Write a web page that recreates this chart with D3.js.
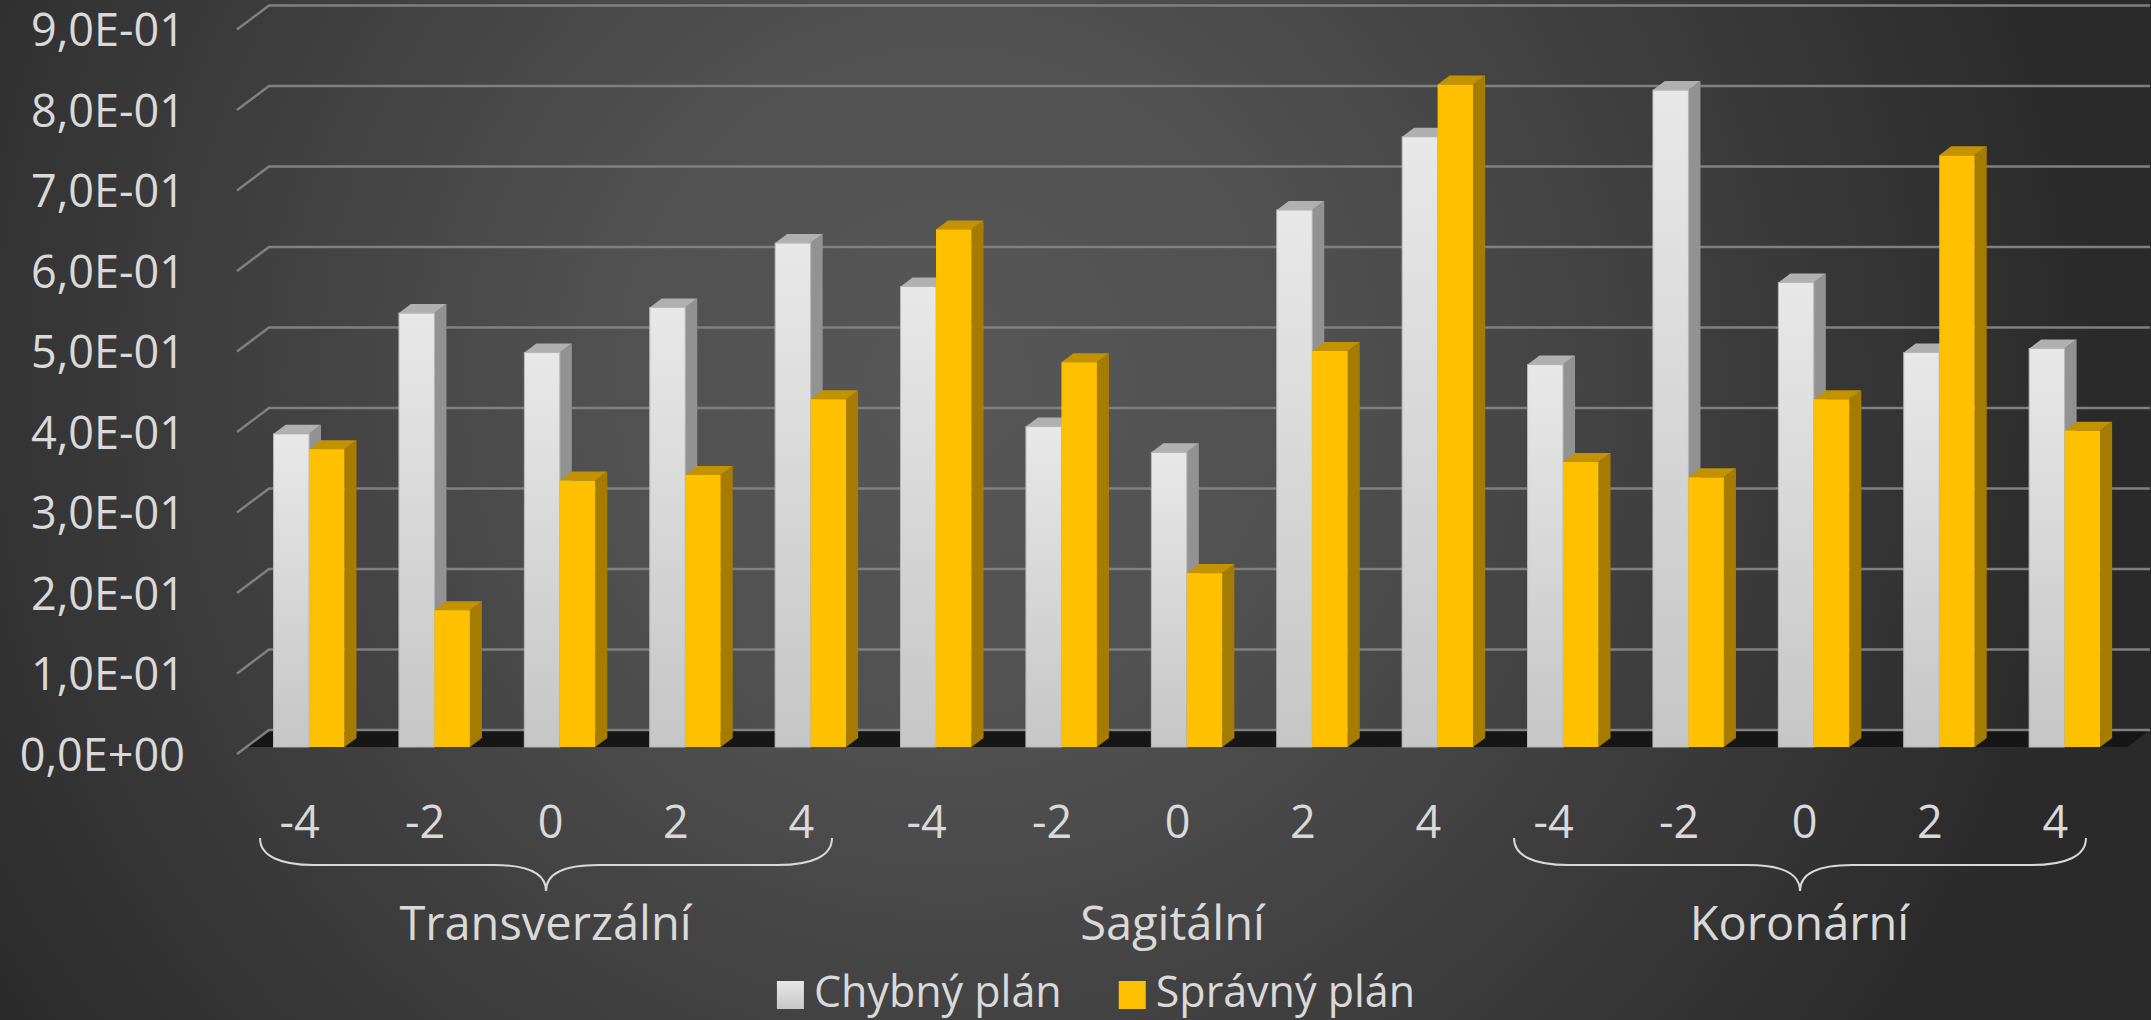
<!DOCTYPE html>
<html>
<head>
<meta charset="utf-8">
<script src="https://cdn.jsdelivr.net/npm/d3@7"></script>
<style>
  html, body { margin: 0; padding: 0; background: #2b2b2b; }
  svg { display: block; font-family: "Open Sans", "Noto Sans", sans-serif; }
</style>
</head>
<body>
<svg id="chart" width="2151" height="1020"></svg>
<script>
// data
const groups = ['Transverzální', 'Sagitální', 'Koronární'];
const categories = ['-4', '-2', '0', '2', '4'];
const seriesNames = ['Chybný plán', 'Správný plán'];
const chybny = [0.389, 0.539, 0.490, 0.546, 0.626, 0.572, 0.398, 0.366, 0.667, 0.758, 0.475, 0.816, 0.577, 0.490, 0.495];
const spravny = [0.370, 0.170, 0.331, 0.338, 0.432, 0.643, 0.478, 0.216, 0.492, 0.823, 0.354, 0.335, 0.432, 0.735, 0.393];
const yTickValues = [0, 0.1, 0.2, 0.3, 0.4, 0.5, 0.6, 0.7, 0.8, 0.9];
const yTickLabels = ['0,0E+00', '1,0E-01', '2,0E-01', '3,0E-01', '4,0E-01', '5,0E-01', '6,0E-01', '7,0E-01', '8,0E-01', '9,0E-01'];

const W = 2151, H = 1020;
const svg = d3.select('#chart');
const defs = svg.append('defs');

// background
const bg = defs.append('radialGradient').attr('id', 'bg')
  .attr('gradientUnits', 'userSpaceOnUse')
  .attr('cx', 950).attr('cy', 380).attr('r', 1150);
bg.append('stop').attr('offset', 0).attr('stop-color', '#575757');
bg.append('stop').attr('offset', 0.3).attr('stop-color', '#515151');
bg.append('stop').attr('offset', 1).attr('stop-color', '#2a2a2a');
svg.append('rect').attr('width', W).attr('height', H).attr('fill', 'url(#bg)');

const wg = defs.append('linearGradient').attr('id', 'whiteFront').attr('x1', 0).attr('y1', 0).attr('x2', 0).attr('y2', 1);
wg.append('stop').attr('offset', 0).attr('stop-color', '#e8e8e8');
wg.append('stop').attr('offset', 1).attr('stop-color', '#c6c6c6');
const lg = defs.append('linearGradient').attr('id', 'whiteLegend').attr('x1', 0).attr('y1', 0).attr('x2', 0).attr('y2', 1);
lg.append('stop').attr('offset', 0).attr('stop-color', '#e6e6e6');
lg.append('stop').attr('offset', 1).attr('stop-color', '#c8c8c8');

// 3d projection (oblique)
const frontLeft = 237, frontRight = 2118;
const Dx = 32, Dy = 24;      // full depth offset
const zF = 0.2917, zB = 0.667; // bar front / back depth

const allCats = d3.range(groups.length * categories.length);
const x = d3.scaleBand().domain(allCats).range([frontLeft, frontRight])
  .paddingInner(0.434).paddingOuter(0.217);
const xs = d3.scaleBand().domain([0, 1]).range([0, x.bandwidth()]);
const y = d3.scaleLinear().domain([0, 0.9]).range([754, 29.5]);

function P(xf, v, z) { return [xf + z * Dx, y(v) - z * Dy]; }
const poly = pts => 'M' + pts.map(p => p.join(',')).join('L') + 'Z';

// floor
svg.append('path')
  .attr('d', poly([P(frontLeft, 0, zF), P(frontRight, 0, zF), P(frontRight, 0, 1), P(frontLeft, 0, 1)]))
  .attr('fill', '#161616');

// gridlines (side wall + back wall)
const grid = svg.append('g').attr('stroke', '#808080').attr('stroke-width', 2.5).attr('fill', 'none');
yTickValues.forEach(v => {
  const a = P(frontLeft, v, 0), b = P(frontLeft, v, 1), c = P(frontRight, v, 1);
  grid.append('path').attr('d', `M${a}L${b}L${c}`);
});

// bars
const colors = [
  { front: 'url(#whiteFront)', top: '#b0b0b0', side: '#929292', stroke: '#b8b8b8' },
  { front: '#ffc000', top: '#c29200', side: '#a67c00', stroke: 'none' }
];
const barsG = svg.append('g');
allCats.forEach(i => {
  [chybny[i], spravny[i]].forEach((v, s) => {
    const x0 = x(i) + xs(s), x1 = x0 + xs.bandwidth();
    const c = colors[s];
    const g = barsG.append('g');
    g.append('path').attr('d', poly([P(x1, v, zF), P(x1, 0, zF), P(x1, 0, zB), P(x1, v, zB)])).attr('fill', c.side);
    g.append('path').attr('d', poly([P(x0, v, zF), P(x1, v, zF), P(x1, v, zB), P(x0, v, zB)])).attr('fill', c.top);
    const f0 = P(x0, v, zF), f1 = P(x1, 0, zF);
    g.append('rect').attr('x', f0[0]).attr('y', f0[1]).attr('width', f1[0] - f0[0]).attr('height', f1[1] - f0[1])
      .attr('fill', c.front).attr('stroke', c.stroke).attr('stroke-width', 1);
  });
});

const textColor = '#d9d9d9';

// y axis labels
svg.append('g').selectAll('text').data(yTickValues).join('text')
  .attr('x', 185).attr('y', d => y(d) + 1).attr('dy', '0.35em')
  .attr('text-anchor', 'end').attr('font-size', 45).attr('fill', textColor)
  .text((d, i) => yTickLabels[i]);

// category labels
svg.append('g').selectAll('text').data(allCats).join('text')
  .attr('x', i => x(i) + x.bandwidth() / 2).attr('y', 822).attr('dy', '0.35em')
  .attr('text-anchor', 'middle').attr('font-size', 45).attr('fill', textColor)
  .text(i => categories[i % categories.length]);

// group labels + braces
const step = x.step();
groups.forEach((gname, gi) => {
  const gx0 = frontLeft + gi * categories.length * step;
  const gx1 = gx0 + categories.length * step;
  const cx = (gx0 + gx1) / 2 - 5;
  svg.append('text').attr('x', cx).attr('y', 940)
    .attr('text-anchor', 'middle').attr('font-size', 47).attr('fill', textColor).text(gname);
  if (gi === 1) return; // middle group brace is not shown
  const b0 = gx0 + 23, b1 = gx1 - 32, t = (b0 + b1) / 2;
  const yT = 838, yM = 865, yTip = 891;
  const d = `M${b0},${yT} C${b0},${yT + 18} ${b0 + 20},${yM} ${b0 + 54},${yM} L${t - 52},${yM} ` +
    `C${t - 18},${yM} ${t},${yM + 8} ${t},${yTip} C${t},${yM + 8} ${t + 18},${yM} ${t + 52},${yM} ` +
    `L${b1 - 54},${yM} C${b1 - 20},${yM} ${b1},${yT + 18} ${b1},${yT}`;
  svg.append('path').attr('d', d).attr('fill', 'none').attr('stroke', textColor).attr('stroke-width', 2);
});

// legend
const legend = svg.append('g');
const legendFill = ['url(#whiteLegend)', '#ffc000'];
let lx = 0;
seriesNames.forEach((name, i) => {
  const g = legend.append('g');
  g.append('rect').attr('x', 0).attr('y', 981).attr('width', 27).attr('height', 28).attr('fill', legendFill[i]);
  const t = g.append('text').attr('x', 37).attr('y', 1007)
    .attr('font-size', 43).attr('fill', textColor).text(name);
  const w = 37 + t.node().getComputedTextLength();
  g.attr('transform', `translate(${lx},0)`);
  lx += w + 57;
});
const totalW = lx - 57;
legend.attr('transform', `translate(${1096 - totalW / 2},0)`);
</script>
</body>
</html>
